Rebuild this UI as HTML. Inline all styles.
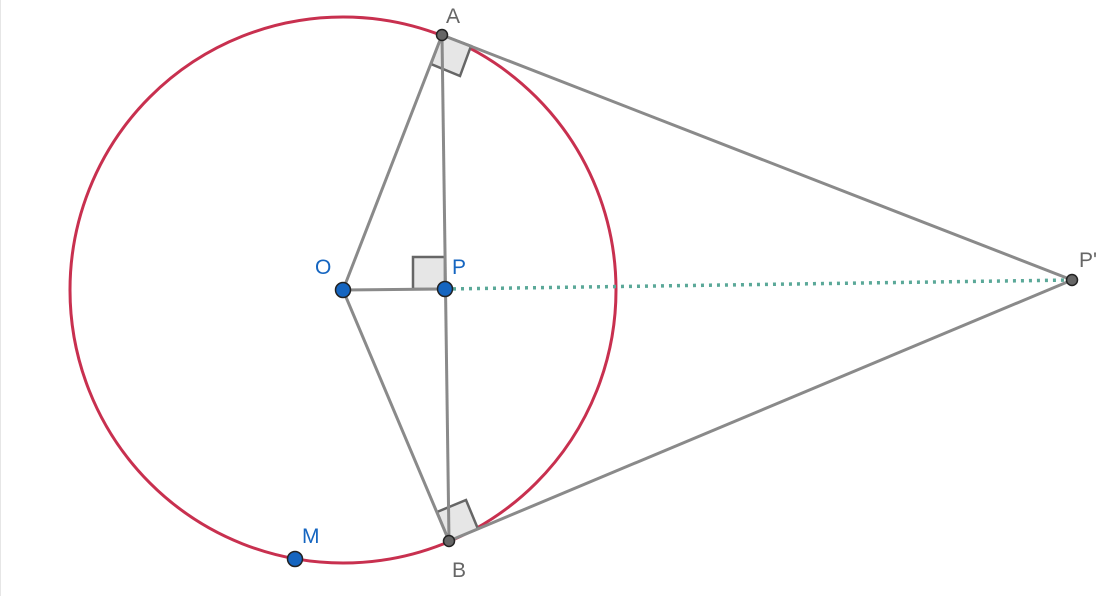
<!DOCTYPE html>
<html><head><style>body{margin:0;background:#fff}svg{display:block}</style></head><body>
<svg width="1113" height="596" viewBox="0 0 1113 596" xmlns="http://www.w3.org/2000/svg" font-family="Liberation Sans, sans-serif" font-size="21">
<rect x="0" y="0" width="1113" height="596" fill="#fff"/>
<line x1="0" y1="0" x2="0" y2="596" stroke="#e6e6e6" stroke-width="2"/>
<circle cx="343" cy="290" r="273" fill="none" stroke="#c8304f" stroke-width="3"/>
<g fill="#e6e6e6" stroke="#666" stroke-width="2.5">
<polygon points="442,35 431,64 460,76 471,46"/>
<polygon points="449,541 437,512 466,500 478,529"/>
<polygon points="445,289 413,289 413,257 445,257"/>
</g>
<g stroke="#8a8a8a" stroke-width="3" fill="none">
<line x1="343" y1="290" x2="442" y2="35"/>
<line x1="343" y1="290" x2="449" y2="541"/>
<line x1="343" y1="290" x2="445" y2="289"/>
<line x1="442" y1="35" x2="449" y2="541"/>
<line x1="442" y1="35" x2="1072" y2="280"/>
<line x1="449" y1="541" x2="1072" y2="280"/>
</g>
<line x1="445" y1="289" x2="1072" y2="280" stroke="#5aa898" stroke-width="3.5" stroke-dasharray="3,5"/>
<g stroke="#222" stroke-width="1.5">
<circle cx="442" cy="35" r="5.5" fill="#666"/>
<circle cx="449" cy="541" r="5.5" fill="#666"/>
<circle cx="1072" cy="280" r="5.5" fill="#666"/>
<circle cx="343" cy="290" r="7.5" fill="#1565c0"/>
<circle cx="445" cy="289" r="7.5" fill="#1565c0"/>
<circle cx="295" cy="559" r="7.5" fill="#1565c0"/>
</g>
<g fill="#666">
<text x="446" y="23">A</text>
<text x="452" y="577">B</text>
<text x="1079" y="267">P'</text>
</g>
<g fill="#1565c0">
<text x="315" y="274">O</text>
<text x="452" y="274">P</text>
<text x="302" y="543">M</text>
</g>
</svg>
</body></html>
